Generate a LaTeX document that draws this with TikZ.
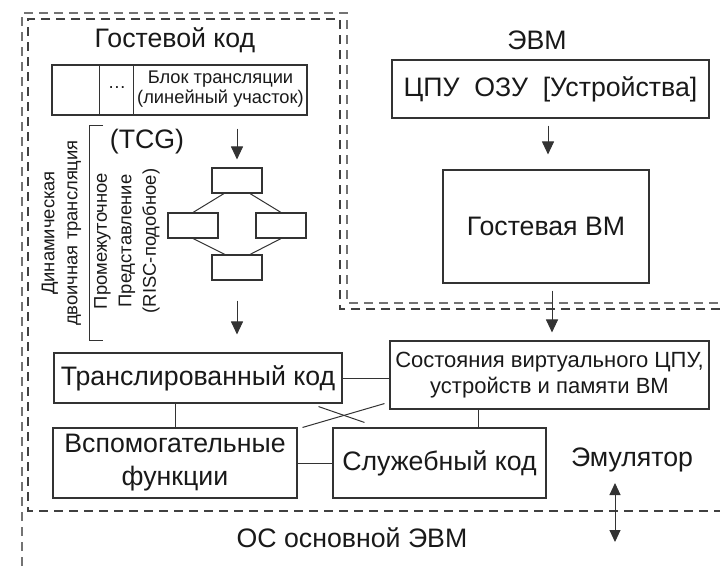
\documentclass[tikz,border=0pt]{standalone}
\usepackage{fontspec}
\setmainfont{Liberation Sans}
\usetikzlibrary{arrows.meta}

\begin{document}
\begin{tikzpicture}[x=1pt,y=-1pt,
  box/.style={draw=black!80, line width=1.1pt, inner sep=0pt, text=black!90},
  fbox/.style={box, minimum width=50pt, minimum height=25pt},
  link/.style={draw=black!80, line width=1pt},
  arr/.style={link, -{Triangle[length=13pt,width=12pt]}},
  zone/.style={line width=1.3pt, dash pattern=on 9pt off 6pt},
  big/.style={text=black!90, inner sep=0pt, font=\fontsize{26.7}{31}\selectfont},
  mid/.style={text=black!90, inner sep=0pt, align=center, font=\fontsize{22}{26}\selectfont},
  small/.style={text=black!90, inner sep=0pt, align=center, font=\fontsize{18.3}{20.5}\selectfont},
  rot/.style={text=black!90, inner sep=0pt, align=center, rotate=90}
]
\useasboundingbox (0,0) rectangle (720,566);

% dashed regions: host OS (outer) and emulator (inner)
\draw[zone, draw=black!55] (22,566) -- (22,13) -- (347,13) -- (347,303) -- (720,303);
\draw[zone, draw=black!75] (720,309) -- (340,309) -- (340,19) -- (28,19) -- (28,511) -- (720,511);

% guest code part
\node[big] (gtitle) at (175,40) {Гостевой код};
\node[box, minimum width=255pt, minimum height=50pt] (blk) at (179.5,90) {};
\draw[link] ([xshift=48pt]blk.north west) -- ([xshift=48pt]blk.south west);
\draw[link] ([xshift=82pt]blk.north west) -- ([xshift=82pt]blk.south west);
\node[small] (blkdots) at (117,88) {\ldots};
\node[small] (blktxt) at (220.5,89) {Блок трансляции\\(линейный участок)};

\node[big] (tcg) at (147,142) {(TCG)};
\draw[link] (103,125) -- (89,125) -- (89,340) -- (103,340);
\node[rot, font=\fontsize{18.4}{23}\selectfont] (dyn) at (61.5,233) {Динамическая\\двоичная трансляция};
\node[rot, font=\fontsize{18.4}{24.5}\selectfont] (ir) at (127,241) {Промежуточное\\Представление\\(RISC-подобное)};

% intermediate representation graph
\node[fbox] (ft) at (237,180.5) {};
\node[fbox] (fl) at (193,225.5) {};
\node[fbox] (fr) at (281,225.5) {};
\node[fbox] (fb) at (237,267.5) {};
\draw[link] ([xshift=-13pt]ft.south) -- (fl.north);
\draw[link] ([xshift=13pt]ft.south) -- (fr.north);
\draw[link] (fl.south) -- ([xshift=-12pt]fb.north);
\draw[link] (fr.south) -- ([xshift=13pt]fb.north);

% emulator blocks
\node[box, big, minimum width=288pt, minimum height=50pt] (trans) at (198,378) {Транслированный код};
\node[box, big, align=center, minimum width=244pt, minimum height=70pt,
      font=\fontsize{26.7}{33}\selectfont] (aux) at (175,463) {Вспомогательные\\функции};
\node[box, big, minimum width=213pt, minimum height=70pt] (serv) at (439.5,463) {Служебный код};
\node[box, mid, minimum width=319pt, minimum height=68pt] (state) at (549.5,375)
      {Состояния виртуального ЦПУ,\\устройств и памяти ВМ};

% guest machine
\node[big] (evm) at (537,40) {ЭВМ};
\node[box, big, minimum width=317pt, minimum height=58pt] (cpu) at (550.5,89) {ЦПУ\ \ ОЗУ\ \ [Устройства]};
\node[box, big, minimum width=206pt, minimum height=113pt] (gvm) at (546,226.5) {Гостевая ВМ};

\node[big] (emul) at (632,460) {Эмулятор};
\node[big] (hostos) at (352,538) {ОС основной ЭВМ};

% arrows
\draw[arr, shorten <=13pt, shorten >=8pt] (ft.north |- blk.south) -- (ft.north);
\draw[arr, shorten <=20pt, shorten >=18pt] (fb.south) -- (fb.south |- trans.north);
\draw[arr, shorten <=7pt, shorten >=15pt] ([xshift=-2.5pt]cpu.south) -- ([xshift=-2.5pt]cpu.south |- gvm.north);
\draw[arr, shorten <=7pt, shorten >=8pt] ([xshift=6pt]gvm.south) -- ([xshift=6pt]gvm.south |- state.north);

\coordinate (emtop) at (615,483);
\coordinate (embot) at (615,542);
\draw[link, {Triangle[length=12pt,width=11pt]}-{Triangle[length=12pt,width=11pt]}] (emtop) -- (embot);

% connections between emulator blocks
\draw[link] (trans.east) -- (trans.east -| state.west);
\draw[link] ([xshift=-23pt]trans.south) -- ([xshift=-23pt]trans.south |- aux.north);
\draw[link] (aux.east) -- (serv.west);
\draw[link] ([xshift=-71.5pt]state.south) -- ([xshift=-71.5pt]state.south |- serv.north);
\draw[link] ([xshift=5pt]aux.north east) -- ([xshift=-5pt,yshift=6pt]state.south west);
\draw[link] ([xshift=-24pt,yshift=-3pt]trans.south east) -- ([xshift=32pt,yshift=5pt]serv.north west);
\end{tikzpicture}
\end{document}
